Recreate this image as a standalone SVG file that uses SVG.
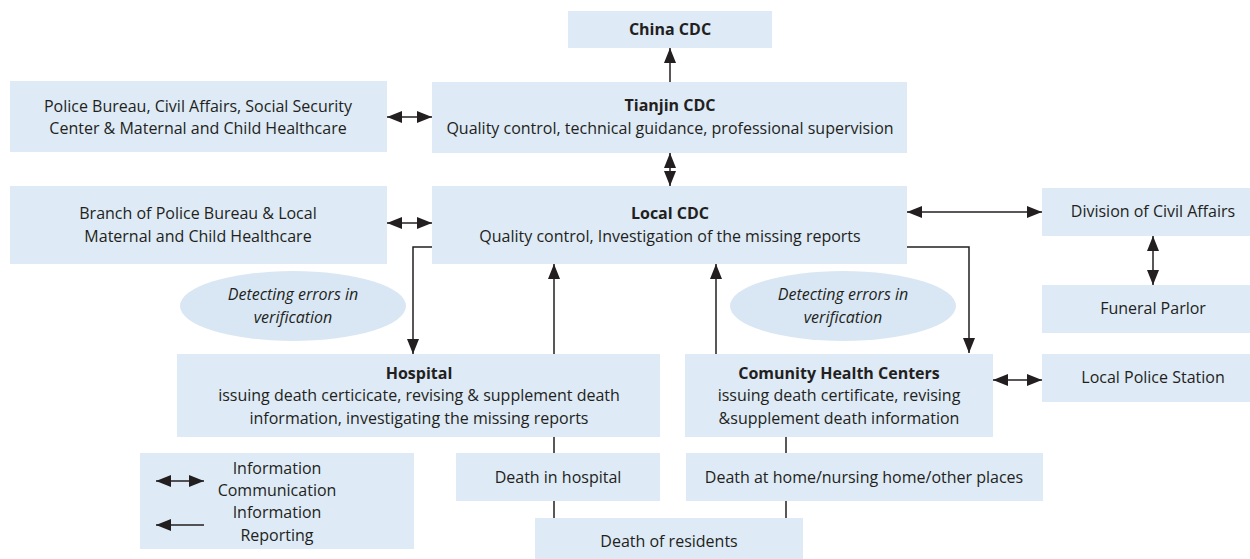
<svg xmlns="http://www.w3.org/2000/svg" width="1250" height="559" viewBox="0 0 1250 559">
<style>
.box{fill:#deeaf6}
.ell{fill:#d9e7f4}
text{font-family:"Open Sans","Liberation Sans",sans-serif;font-size:16px;fill:#231f20;text-anchor:middle}
.b{font-weight:bold}
.i{font-style:italic}
.ln{stroke:#231f20;stroke-width:1.5;fill:none}
</style>
<defs>
<marker id="ah" markerUnits="userSpaceOnUse" markerWidth="15" markerHeight="12" refX="15" refY="6" orient="auto-start-reverse" viewBox="0 0 15 12">
<path d="M0,0 L15,6 L0,12 z" fill="#231f20"/>
</marker>
</defs>
<rect width="1250" height="559" fill="#ffffff"/>
<g id="china-cdc"><rect class="box" x="568" y="11" width="204" height="37"/><text class="b" x="670" y="35">China CDC</text></g>
<g id="police-bureau"><rect class="box" x="10" y="81" width="377" height="71"/><text x="198" y="112">Police Bureau, Civil Affairs, Social Security</text><text x="198" y="134">Center &amp; Maternal and Child Healthcare</text></g>
<g id="tianjin-cdc"><rect class="box" x="432" y="82" width="475" height="71"/><text class="b" x="670" y="111">Tianjin CDC</text><text x="670" y="134">Quality control, technical guidance, professional supervision</text></g>
<g id="branch"><rect class="box" x="10" y="186" width="377" height="78"/><text x="198" y="219">Branch of Police Bureau &amp; Local</text><text x="198" y="242">Maternal and Child Healthcare</text></g>
<g id="local-cdc"><rect class="box" x="432" y="186" width="475" height="78"/><text class="b" x="670" y="219">Local CDC</text><text x="670" y="242">Quality control, Investigation of the missing reports</text></g>
<g id="civil-affairs"><rect class="box" x="1042" y="188" width="208" height="48"/><text x="1153" y="217">Division of Civil Affairs</text></g>
<g id="funeral"><rect class="box" x="1042" y="285" width="208" height="48"/><text x="1153" y="314">Funeral Parlor</text></g>
<g id="police-station"><rect class="box" x="1042" y="354" width="208" height="48"/><text x="1153" y="383">Local Police Station</text></g>
<g id="ellipse-1"><ellipse class="ell" cx="293" cy="306" rx="113" ry="35"/><text class="i" x="293" y="300">Detecting errors in</text><text class="i" x="293" y="323">verification</text></g>
<g id="ellipse-2"><ellipse class="ell" cx="843" cy="306" rx="113" ry="35"/><text class="i" x="843" y="300">Detecting errors in</text><text class="i" x="843" y="323">verification</text></g>
<g id="hospital"><rect class="box" x="177" y="354" width="483" height="83"/><text class="b" x="419" y="379">Hospital</text><text x="419" y="401">issuing death certicicate, revising &amp; supplement death</text><text x="419" y="424">information, investigating the missing reports</text></g>
<g id="community"><rect class="box" x="685" y="354" width="308" height="83"/><text class="b" x="839" y="379">Comunity Health Centers</text><text x="839" y="401">issuing death certificate, revising</text><text x="839" y="424">&amp;supplement death information</text></g>
<g id="legend"><rect class="box" x="140" y="453" width="274" height="96"/><text x="277" y="474">Information</text><text x="277" y="496">Communication</text><text x="277" y="518">Information</text><text x="277" y="541">Reporting</text>
<line class="ln" x1="156" y1="481" x2="204" y2="481" marker-start="url(#ah)" marker-end="url(#ah)"/>
<line class="ln" x1="204" y1="525" x2="156" y2="525" marker-end="url(#ah)"/></g>
<g id="death-hospital"><rect class="box" x="456" y="453" width="204" height="48"/><text x="558" y="483">Death in hospital</text></g>
<g id="death-home"><rect class="box" x="686" y="453" width="357" height="48"/><text x="864" y="483">Death at home/nursing home/other places</text></g>
<g id="death-residents"><rect class="box" x="535" y="518" width="268" height="41"/><text x="669" y="547">Death of residents</text></g>
<g id="connectors">
<line class="ln" x1="670" y1="82" x2="670" y2="48" marker-end="url(#ah)"/>
<line class="ln" x1="670" y1="153" x2="670" y2="186" marker-start="url(#ah)" marker-end="url(#ah)"/>
<line class="ln" x1="387" y1="117" x2="432" y2="117" marker-start="url(#ah)" marker-end="url(#ah)"/>
<line class="ln" x1="387" y1="223" x2="432" y2="223" marker-start="url(#ah)" marker-end="url(#ah)"/>
<line class="ln" x1="907" y1="212" x2="1042" y2="212" marker-start="url(#ah)" marker-end="url(#ah)"/>
<line class="ln" x1="1153" y1="236" x2="1153" y2="285" marker-start="url(#ah)" marker-end="url(#ah)"/>
<line class="ln" x1="993" y1="380" x2="1042" y2="380" marker-start="url(#ah)" marker-end="url(#ah)"/>
<polyline class="ln" points="432,247 413,247 413,354" marker-end="url(#ah)"/>
<polyline class="ln" points="907,247 969,247 969,353" marker-end="url(#ah)"/>
<line class="ln" x1="554" y1="354" x2="554" y2="264" marker-end="url(#ah)"/>
<line class="ln" x1="716" y1="354" x2="716" y2="264" marker-end="url(#ah)"/>
<line class="ln" x1="554" y1="437" x2="554" y2="453"/>
<line class="ln" x1="554" y1="501" x2="554" y2="518"/>
<line class="ln" x1="786" y1="437" x2="786" y2="453"/>
<line class="ln" x1="786" y1="501" x2="786" y2="518"/>
</g>
</svg>
